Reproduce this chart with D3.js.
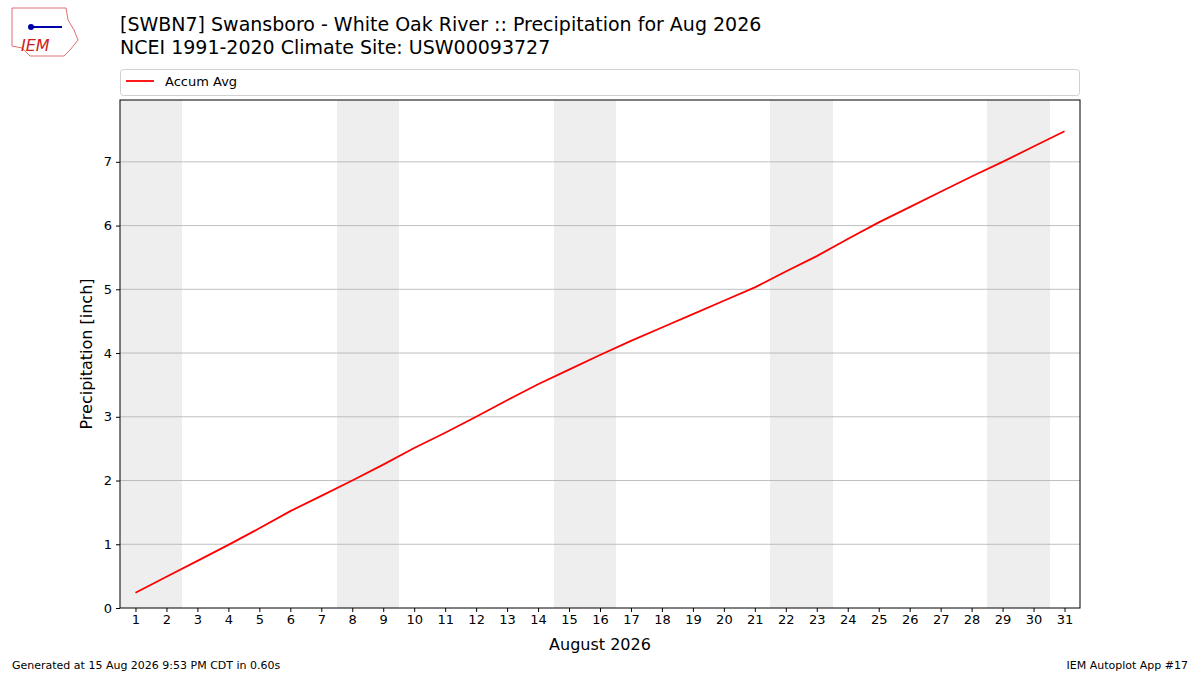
<!DOCTYPE html>
<html><head><meta charset="utf-8">
<script src="https://cdn.jsdelivr.net/npm/d3@7"></script>
<style>body{margin:0;background:#fff}text{font-family:"DejaVu Sans",sans-serif}</style>
</head><body>
<svg id="c" width="1200" height="675"></svg>
<script>
// accumulated average precip, Aug 1..31
const days = d3.range(1, 32);
const accumAvg = [0.24,0.49,0.74,0.99,1.25,1.52,1.76,2.0,2.25,2.51,2.75,3.0,3.26,3.51,3.74,3.97,4.19,4.40,4.61,4.82,5.03,5.28,5.52,5.79,6.05,6.29,6.53,6.77,7.0,7.24,7.48];
const weekends = [1,2,8,9,15,16,22,23,29,30];
const yTicks = [0,1,2,3,4,5,6,7];

const svg = d3.select('#c');
const L = 120, R = 1080, T = 100, B = 608;
const x = d3.scaleLinear().domain([0.5, 31.5]).range([L, R]);
const y = d3.scaleLinear().domain([0, 7.97]).range([B, T]);

// weekend shading
svg.selectAll('rect.wk').data(weekends).enter().append('rect')
  .attr('x', d => x(d - 0.5)).attr('width', x(1) - x(0) + 0.5)
  .attr('y', T).attr('height', B - T).attr('fill', '#eeeeee').attr('shape-rendering', 'crispEdges');

// grid
svg.selectAll('line.g').data(yTicks.slice(1)).enter().append('line')
  .attr('x1', L).attr('x2', R).attr('y1', d => y(d)).attr('y2', d => y(d))
  .attr('stroke', '#b0b0b0').attr('stroke-width', 0.8);

const ya = svg.append('g').attr('transform', `translate(${L},0)`)
  .call(d3.axisLeft(y).tickValues(yTicks).tickSize(4).tickPadding(4));
const xa = svg.append('g').attr('transform', `translate(0,${B})`)
  .call(d3.axisBottom(x).tickValues(days).tickFormat(d3.format('d')).tickSize(4).tickPadding(3));
[ya, xa].forEach(a => { a.select('.domain').remove(); a.selectAll('text').attr('font-size', 13).attr('fill', '#000'); a.selectAll('line').attr('stroke', '#000'); });

svg.append('rect').attr('x', L).attr('y', T).attr('width', R - L).attr('height', B - T)
  .attr('fill', 'none').attr('stroke', '#000').attr('stroke-width', 1);

svg.append('path').datum(accumAvg)
  .attr('d', d3.line().x((d, i) => x(days[i])).y(d => y(d)))
  .attr('fill', 'none').attr('stroke', 'red').attr('stroke-width', 1.8);

// legend
svg.append('rect').attr('x', 120.5).attr('y', 69.5).attr('width', 959).attr('height', 26).attr('rx', 3)
  .attr('fill', '#fff').attr('stroke', '#d0d0d0');
svg.append('line').attr('x1', 126).attr('x2', 154).attr('y1', 81).attr('y2', 81).attr('stroke', 'red').attr('stroke-width', 1.8);
svg.append('text').attr('x', 165).attr('y', 86).attr('font-size', 13).text('Accum Avg');

// titles
svg.append('text').attr('x', 120).attr('y', 31).attr('font-size', 19).text('[SWBN7] Swansboro - White Oak River :: Precipitation for Aug 2026');
svg.append('text').attr('x', 120).attr('y', 54).attr('font-size', 19).text('NCEI 1991-2020 Climate Site: USW00093727');
svg.append('text').attr('transform', `translate(92,${(T + B) / 2}) rotate(-90)`).attr('text-anchor', 'middle')
  .attr('font-size', 16).text('Precipitation [inch]');
svg.append('text').attr('x', (L + R) / 2).attr('y', 650).attr('text-anchor', 'middle').attr('font-size', 16).text('August 2026');
svg.append('text').attr('x', 12).attr('y', 669).attr('font-size', 11).text('Generated at 15 Aug 2026 9:53 PM CDT in 0.60s');
svg.append('text').attr('x', 1188).attr('y', 669).attr('text-anchor', 'end').attr('font-size', 11).text('IEM Autoplot App #17');

// logo
const lg = svg.append('g');
lg.append('path').attr('d', 'M12,8 L66,8 L68,20 L74,30 L78,40 L70,50 L64,56 L30,56 L22,48 L12,46 Z')
  .attr('fill', '#fff').attr('stroke', '#e07070').attr('stroke-width', 1);
lg.append('line').attr('x1', 30).attr('x2', 62).attr('y1', 27).attr('y2', 27).attr('stroke', '#0000aa').attr('stroke-width', 2);
lg.append('circle').attr('cx', 31).attr('cy', 27).attr('r', 3).attr('fill', '#0000aa');
lg.append('text').attr('x', 21).attr('y', 51).attr('font-size', 16).attr('font-style', 'italic')
  .attr('font-family', 'Liberation Serif, serif').attr('fill', '#d02020').text('IEM');
</script>
</body></html>
